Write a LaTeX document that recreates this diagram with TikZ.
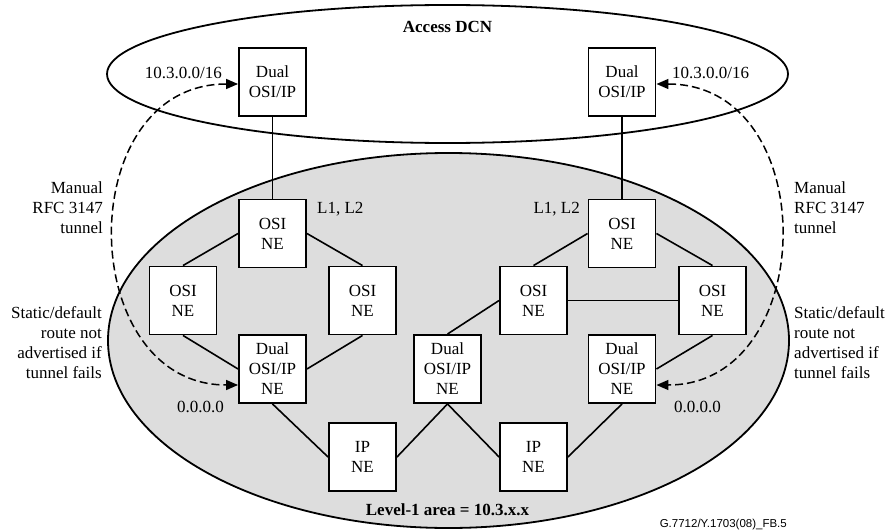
\documentclass[tikz,border=0pt]{standalone}
\usepackage{fontspec}
\setmainfont{Liberation Serif}
\newfontfamily\refsans{Liberation Sans}
\usetikzlibrary{arrows.meta}
\definecolor{areagray}{RGB}{221,221,221}
\begin{document}
\begin{tikzpicture}[x=1pt,y=-1pt,
  font=\fontsize{17}{20}\selectfont,
  nebox/.style={draw, line width=1.9pt, fill=white, minimum width=67pt, minimum height=68pt, inner sep=0pt, align=center},
  link/.style={line width=1.6pt},
  thicklink/.style={line width=2.6pt},
  tunnel/.style={line width=1.5pt, dash pattern=on 8pt off 4pt, {Triangle[length=12pt,width=10pt]}-{Triangle[length=12pt,width=10pt]}},
  lbl/.style={inner sep=0pt},
  region/.style={line width=1.8pt}]
\useasboundingbox (0,0) rectangle (888,532);
% regions
\draw[region, fill=areagray] (448.5,340.5) ellipse [x radius=340.5, y radius=187.5];
\draw[region] (447.5,74) ellipse [x radius=340.5, y radius=69];
% nodes
\node[nebox] (dTL) at (272.5,82) {Dual\\OSI/IP};
\node[nebox] (dTR) at (622,82) {Dual\\OSI/IP};
\node[nebox] (oL1) at (272.5,233.5) {OSI\\NE};
\node[nebox] (oR1) at (622,233.5) {OSI\\NE};
\node[nebox] (oL2a) at (183,300.5) {OSI\\NE};
\node[nebox] (oL2b) at (362.5,300.5) {OSI\\NE};
\node[nebox] (oR2a) at (533.5,300.5) {OSI\\NE};
\node[nebox] (oR2b) at (712.5,300.5) {OSI\\NE};
\node[nebox] (dL) at (272.5,369) {Dual\\OSI/IP\\NE};
\node[nebox] (dM) at (447.5,369) {Dual\\OSI/IP\\NE};
\node[nebox] (dR) at (622,369) {Dual\\OSI/IP\\NE};
\node[nebox] (ipL) at (362.5,457) {IP\\NE};
\node[nebox] (ipR) at (533.5,457) {IP\\NE};
% connectors
\draw[link] (dTL.south) -- (oL1.north);
\draw[thicklink] (dTR.south) -- (oR1.north);
\draw[link] (oL1.west) -- (oL2a.north);
\draw[link] (oL1.east) -- (oL2b.north);
\draw[link] (oL2a.south) -- (dL.west);
\draw[link] (oL2b.south) -- (dL.east);
\draw[link] (dL.south) -- (ipL.west);
\draw[link] (ipL.east) -- (dM.south);
\draw[link] (dM.north) -- (oR2a.west);
\draw[link] (dM.south) -- (ipR.west);
\draw[link] (ipR.east) -- (dR.south);
\draw[link] (dR.east) -- (oR2b.south);
\draw[link] (oR2a.east) -- (oR2b.west);
\draw[link] (oR1.west) -- (oR2a.north);
\draw[link] (oR1.east) -- (oR2b.north);
% tunnels
\draw[tunnel] ([yshift=-2pt]dTL.west) .. controls +(-167,0) and +(-163,0) .. ([yshift=-16pt]dL.west);
\draw[tunnel] ([yshift=-2pt]dTR.east) .. controls +(167,0) and +(163,0) .. ([yshift=-16pt]dR.east);
% labels
\node[lbl, font=\fontsize{17}{20}\selectfont\bfseries, anchor=base] (tDCN) at (447.5,33) {Access DCN};
\node[lbl, font=\fontsize{17}{20}\selectfont\bfseries, anchor=base] (tArea) at (447.5,515) {Level-1 area = 10.3.x.x};
\node[lbl, anchor=base east] (pL) at (222,79) {10.3.0.0/16};
\node[lbl, anchor=base west] (pR) at (672,79) {10.3.0.0/16};
\node[lbl, anchor=base west] (lvL) at (317,213) {L1, L2};
\node[lbl, anchor=base east] (lvR) at (580,213) {L1, L2};
\node[lbl, anchor=east, align=right] (mL) at (103,208) {Manual\\RFC 3147\\tunnel};
\node[lbl, anchor=west, align=left] (mR) at (794,208) {Manual\\RFC 3147\\tunnel};
\node[lbl, anchor=east, align=right] (sL) at (102,343) {Static/default\\route not\\advertised if\\tunnel fails};
\node[lbl, anchor=west, align=left] (sR) at (794,343) {Static/default\\route not\\advertised if\\tunnel fails};
\node[lbl, anchor=base east] (zL) at (224,412) {0.0.0.0};
\node[lbl, anchor=base west] (zR) at (674,412) {0.0.0.0};
\node[lbl, font=\refsans\fontsize{11.5}{13}\selectfont, anchor=base east] (fig) at (787,527) {G.7712/Y.1703(08)\_FB.5};
\end{tikzpicture}
\end{document}
